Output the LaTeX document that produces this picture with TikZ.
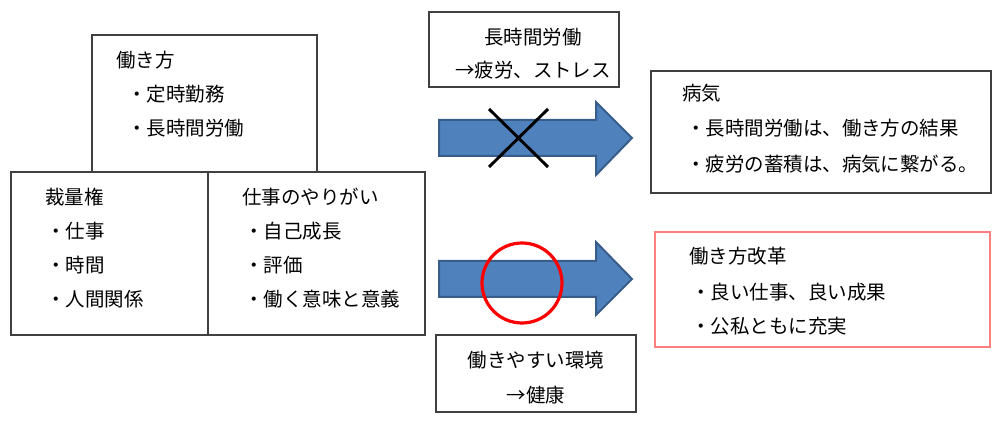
\documentclass[tikz,border=0pt]{standalone}
\usepackage{fontspec}
\setmainfont{Noto Sans CJK JP}
\newfontfamily\jp{Noto Sans CJK JP}
\definecolor{boxgray}{HTML}{404040}
\definecolor{arrowfill}{HTML}{4F81BD}
\definecolor{arrowedge}{HTML}{385D8A}
\definecolor{lightred}{HTML}{FF7F7F}
\begin{document}
\begin{tikzpicture}[x=0.75pt,y=-0.75pt,
  box/.style={draw=boxgray,line width=1.1pt,fill=white},
  redbox/.style={draw=lightred,line width=1.5pt,fill=white},
  txt/.style={anchor=west,inner sep=0pt,font=\jp\fontsize{14.6pt}{17pt}\selectfont},
  ctxt/.style={anchor=center,inner sep=0pt,font=\jp\fontsize{14.6pt}{17pt}\selectfont},
  blockarrow/.style={fill=arrowfill,draw=arrowedge,line width=1.5pt,line join=miter},
  cross/.style={draw=black,line width=2.2pt},
  ring/.style={draw=red,line width=2.4pt}]
\useasboundingbox (0,0) rectangle (1000,423);
% boxes
\draw[box] (92,35) rectangle (317,172);
\draw[box] (11,172) rectangle (208,335);
\draw[box] (208,172) rectangle (425,335);
\draw[box] (429,12) rectangle (619,87);
\draw[box] (651,71) rectangle (991,193);
\draw[redbox] (655,232) rectangle (990,347);
\draw[box] (436,335) rectangle (636,412);
% arrows
\path[blockarrow] (439,120) -- (596,120) -- (596,102) -- (632,138) -- (596,175) -- (596,156) -- (439,156) -- cycle;
\path[blockarrow] (439,261) -- (596,261) -- (596,242) -- (632,279) -- (596,315) -- (596,297) -- (439,297) -- cycle;
\draw[cross] (489,109) -- (548,167);
\draw[cross] (548,109) -- (489,167);
\draw[ring] (522,283) circle [radius=40];
% texts
\node[txt] (t1) at (116,60) {働き方};
\node[txt] (t2) at (127,94) {・定時勤務};
\node[txt] (t3) at (127,128) {・長時間労働};
\node[txt] (t4) at (45,197) {裁量権};
\node[txt] (t5) at (46,231) {・仕事};
\node[txt] (t6) at (46,265) {・時間};
\node[txt] (t7) at (46,299) {・人間関係};
\node[txt] (t8) at (242,197) {仕事のやりがい};
\node[txt] (t9) at (244,231) {・自己成長};
\node[txt] (t10) at (244,265) {・評価};
\node[txt] (t11) at (244,299) {・働く意味と意義};
\node[ctxt] (t12) at (533,37) {長時間労働};
\node[ctxt] (t13) at (533,70) {→疲労、ストレス};
\node[txt] (t14) at (682,93) {病気};
\node[txt] (t15) at (686,128) {・長時間労働は、働き方の結果};
\node[txt] (t16) at (686,164) {・疲労の蓄積は、病気に繋がる。};
\node[txt] (t17) at (689,256) {働き方改革};
\node[txt] (t18) at (691,292) {・良い仕事、良い成果};
\node[txt] (t19) at (691,326) {・公私ともに充実};
\node[ctxt] (t20) at (536,360) {働きやすい環境};
\node[ctxt] (t21) at (536,395) {→健康};
\end{tikzpicture}
\end{document}
